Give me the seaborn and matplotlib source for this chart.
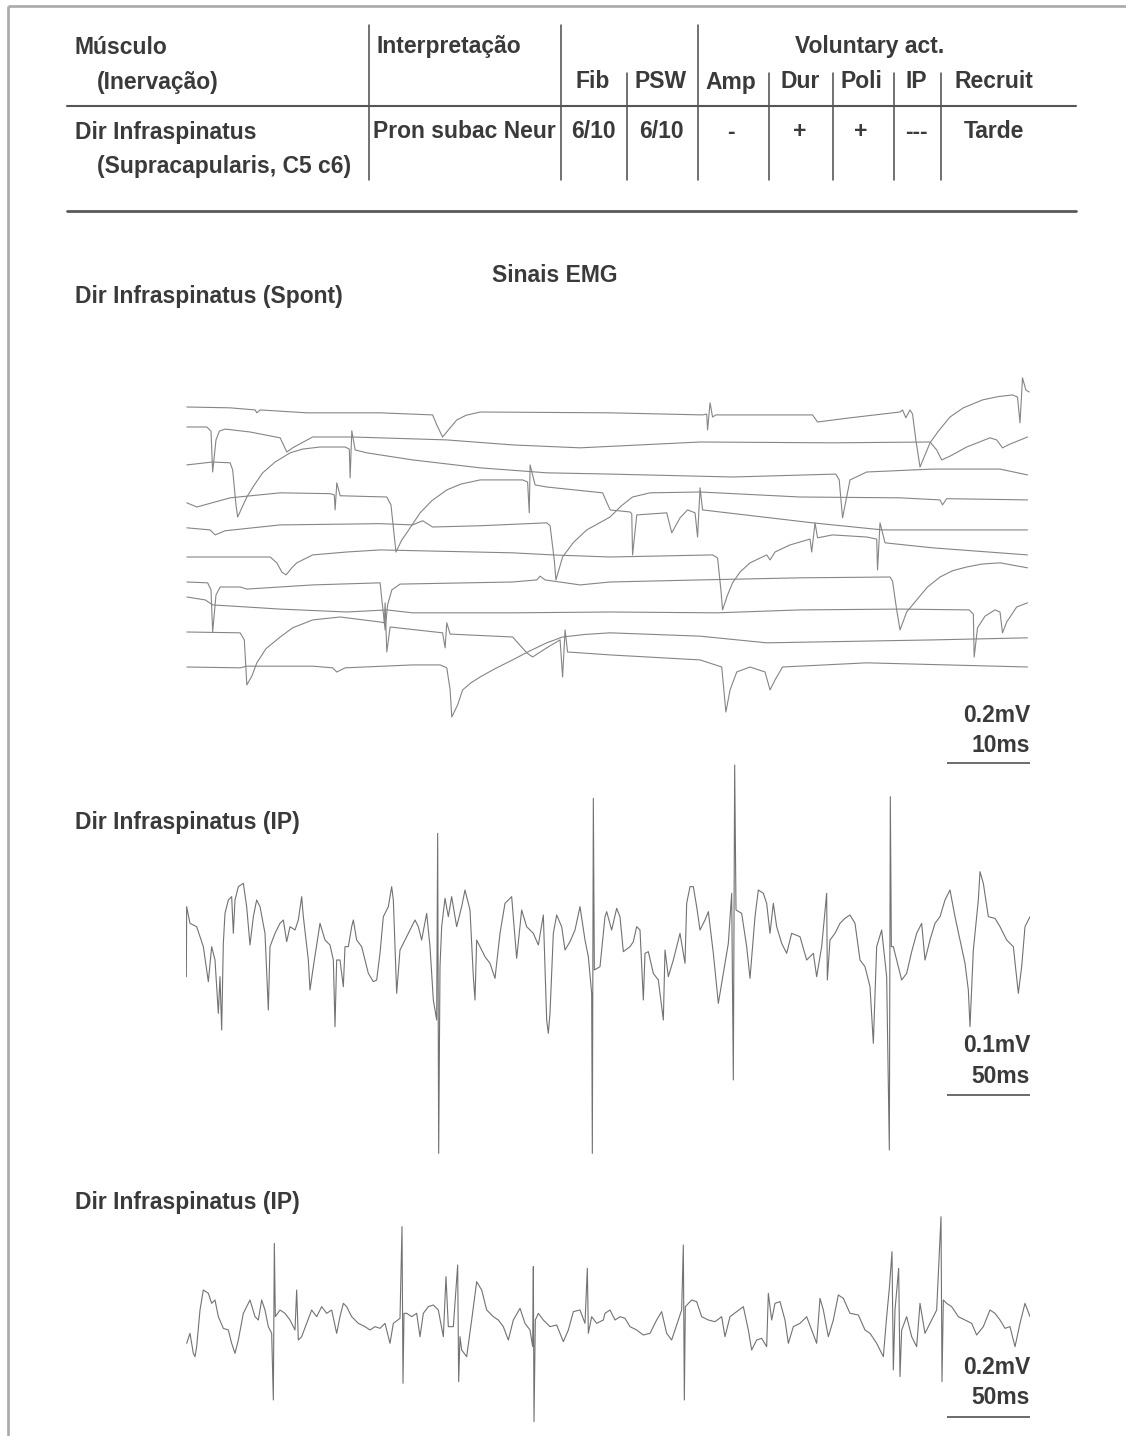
import numpy as np
import pandas as pd
import matplotlib
matplotlib.use("Agg")
import matplotlib.pyplot as plt
import seaborn as sns

# ---- table content ----
header_cols = ["Fib", "PSW", "Amp", "Dur", "Poli", "IP", "Recruit"]
row_values = ["6/10", "6/10", "-", "+", "+", "---", "Tarde"]
muscle = "Dir Infraspinatus"
innervation = "(Supracapularis, C5 c6)"
interpretation = "Pron subac Neur"

# ---- spontaneous activity: 10 sweeps, (time ms, amplitude uV vs. sweep baseline) ----
sweep01 = [(0.1, 0), (5.3, -2), (8.3, -7), (8.5, -14), (8.9, -7), (14.5, -14), (23.3, -14), (29.6, -19),
           (30.1, -43), (30.8, -72), (31.7, -50), (32.5, -31), (33.6, -20), (35.3, -12), (50.9, -14),
           (62.0, -19), (62.5, -17), (62.6, -55), (62.9, 10), (63.2, -24), (63.6, -19), (75.2, -19),
           (75.8, -36), (79.7, -26), (85.7, -12), (86.0, -7), (86.4, -26), (86.9, -7), (87.2, -17),
           (87.6, -79), (88.1, -144), (88.7, -115), (89.3, -86), (90.3, -58), (91.7, -24), (93.3, -2),
           (95.6, 17), (97.5, 25), (99.2, 29), (99.8, 24), (100.1, -38), (100.4, 70), (100.8, 41),
           (101.2, 36)]
sweep02 = [(0.1, 0), (2.5, 0), (3.0, -10), (3.2, -108), (3.6, -31), (4.0, -10), (4.7, -5), (7.7, -12),
           (11.3, -26), (12.1, -60), (12.8, -50), (15.2, -24), (20.0, -24), (31.3, -31), (39.2, -43),
           (47.3, -50), (61.7, -36), (77.6, -38), (89.3, -36), (90.1, -55), (90.7, -79), (91.7, -70),
           (93.7, -48), (96.5, -26), (97.3, -31), (98.0, -50), (98.9, -41), (101.0, -24)]
sweep03 = [(0.1, 0), (3.2, 7), (5.3, 5), (5.6, -12), (6.0, -96), (6.2, -125), (7.3, -77), (8.2, -48),
           (9.2, -19), (10.7, 7), (12.5, 29), (14.0, 38), (16.1, 43), (19.1, 43), (19.6, 38), (19.7, -31),
           (19.9, 82), (20.3, 36), (21.7, 29), (27.2, 12), (35.3, -7), (43.3, -19), (50.9, -22),
           (65.6, -29), (78.0, -22), (78.4, -36), (78.8, -127), (79.7, -36), (81.7, -17), (89.6, -10),
           (97.7, -10), (101.0, -24)]
sweep04 = [(0.1, 0), (1.3, -10), (5.3, 12), (11.3, 24), (17.3, 22), (17.8, 19), (17.9, -17), (18.1, 48),
           (18.5, 17), (24.1, 14), (24.6, -5), (25.2, -118), (25.9, -89), (26.5, -72), (28.1, -24),
           (29.5, 5), (31.3, 31), (33.0, 45), (35.3, 55), (40.4, 55), (41.0, 50), (41.2, -24), (41.3, 91),
           (41.9, 43), (43.3, 38), (50.0, 24), (50.9, -17), (53.3, -22), (53.5, -26), (53.6, -125),
           (54.1, -29), (57.7, -24), (58.3, -72), (59.3, -36), (60.2, -17), (61.1, -24), (61.4, -82),
           (61.7, 36), (62.0, -17), (75.2, -48), (83.6, -65), (101.0, -65)]
sweep05 = [(0.1, 0), (2.9, -5), (3.5, -17), (4.7, -7), (11.3, 7), (23.3, 10), (27.2, 7), (28.4, 17),
           (29.6, 2), (35.3, 5), (43.3, 12), (43.7, 5), (44.2, -77), (44.4, -125), (45.2, -70), (46.5, -35),
           (48.1, -5), (50.9, 26), (52.2, 52), (53.6, 74), (55.7, 84), (61.7, 86), (73.7, 74), (85.7, 72),
           (90.5, 67), (90.8, 55), (91.3, 70), (101.0, 67)]
sweep06 = [(0.1, 0), (10.1, 0), (10.9, -14), (11.5, -36), (12.0, -43), (12.7, -26), (13.3, -14), (15.2, 5),
           (19.3, 12), (23.3, 17), (39.2, 10), (44.0, 5), (50.9, 0), (63.2, 5), (63.8, -2), (64.2, -79),
           (64.4, -127), (65.0, -91), (65.6, -62), (66.5, -36), (67.7, -14), (69.7, 5), (70.1, -7),
           (70.7, 12), (72.5, 29), (74.9, 43), (75.1, 12), (75.5, 82), (75.8, 46), (77.6, 53), (81.7, 48),
           (82.9, 43), (83.0, -31), (83.3, 82), (83.9, 34), (89.6, 22), (101.0, 5)]
sweep07 = [(0.1, 0), (2.6, -2), (3.0, -19), (3.2, -120), (3.6, -31), (4.1, -12), (6.5, -12), (7.3, -17),
           (15.2, -7), (23.3, -2), (23.5, -41), (23.9, -115), (24.2, -55), (24.7, -19), (25.7, -5),
           (39.2, 0), (42.1, 5), (42.5, 14), (43.1, 5), (47.3, -7), (50.9, 0), (61.7, 5), (73.7, 10),
           (84.5, 12), (84.8, 2), (85.3, -67), (85.7, -115), (86.5, -72), (87.7, -43), (89.0, -12),
           (90.5, 12), (92.0, 27), (93.7, 36), (95.5, 43), (97.7, 46), (101.0, 34)]
sweep08 = [(0.1, 0), (2.3, -7), (3.2, -19), (7.3, -24), (11.3, -29), (19.3, -36), (24.1, -31), (27.2, -38),
           (39.2, -38), (50.9, -36), (63.7, -38), (73.7, -31), (85.7, -29), (94.0, -31), (94.5, -41),
           (94.6, -144), (95.0, -74), (95.9, -46), (97.1, -31), (97.7, -36), (98.0, -86), (98.5, -60),
           (99.7, -24), (101.0, -14)]
sweep09 = [(0.1, 0), (6.5, -2), (7.0, -19), (7.3, -127), (7.9, -106), (8.5, -74), (9.6, -40), (11.3, -12),
           (12.8, 10), (15.2, 29), (18.5, 36), (23.3, 24), (23.8, 22), (23.9, 70), (24.1, -48), (24.5, 12),
           (30.8, -2), (31.1, -38), (31.3, 22), (31.7, -5), (39.2, -12), (40.9, -50), (41.6, -60),
           (43.3, -38), (44.9, -19), (45.2, -108), (45.5, 5), (45.8, -48), (47.3, -50), (50.9, -55),
           (61.7, -67), (64.3, -84), (64.8, -192), (65.3, -139), (66.1, -96), (67.7, -84), (69.5, -96),
           (70.1, -139), (70.7, -115), (71.6, -84), (81.7, -74), (101.0, -84)]
sweep10 = [(0.1, 0), (6.5, -2), (7.3, 2), (15.2, 2), (17.6, -2), (18.1, -12), (19.1, -2), (27.2, 5),
           (30.5, 5), (31.3, -2), (31.7, -55), (31.9, -120), (32.6, -91), (33.2, -55), (34.2, -38),
           (35.3, -24), (37.0, -5), (39.2, 17), (41.2, 38), (43.3, 58), (45.2, 72), (47.8, 78), (50.9, 82),
           (61.7, 74), (69.7, 58), (89.6, 65), (101.0, 70)]
sweep_offsets = [0, -48, -139, -230, -290, -360, -420, -456, -540, -624]  # uV raster spacing

# ---- interference pattern 1 (0.1 mV / 50 ms): (time ms, amplitude uV) ----
ip1_points = [
    (0.2, -52), (0.4, 32), (2.4, 12), (6.4, 8), (10.4, -16), (13.4, -58), (15.4, -16), (17.4, -32),
    (19.4, -96), (20.4, -52), (21.4, -116), (22.4, -12), (23.4, 24), (25.4, 40), (27.4, 44), (28.4, 0),
    (29.4, 40), (31.4, 56), (34.4, 60), (36.4, 32), (38.4, -14), (40.4, 20), (42.4, 40), (44.4, 32),
    (47.4, 0), (49.4, -92), (50.4, -16), (53.4, 0), (56.4, 12), (58.4, 16), (60.4, -10), (62.4, 8),
    (65.4, 4), (67.4, 16), (69.4, 44), (70.4, 20), (73.4, -32), (74.4, -68), (76.4, -40), (80.4, 12),
    (83.4, -8), (86.4, -14), (88.4, -32), (89.4, -112), (90.4, -32), (92.4, -32), (94.4, -64),
    (95.4, -16), (97.4, -16), (99.4, 8), (100.4, 16), (102.4, -8), (105.4, -16), (109.4, -48),
    (112.4, -58), (114.4, -56), (116.4, -24), (118.4, 20), (121.4, 32), (123.4, 56), (124.4, 40),
    (126.4, -72), (128.4, -20), (130.4, -12), (134.4, 4), (137.4, 16), (139.4, 8), (141.4, -8),
    (144.4, 24), (146.4, -16), (148.4, -80), (150.4, -104), (151.0, 120), (151.6, -264), (152.4, -40),
    (153.4, 8), (155.4, 42), (157.4, 20), (159.4, 44), (162.4, 8), (165.4, 32), (167.4, 52), (170.4, 28),
    (172.4, -52), (173.4, -80), (174.4, -8), (176.4, -16), (179.4, -28), (182.4, -36), (185.4, -54),
    (188.4, 0), (191.4, 36), (195.4, 44), (198.4, -30), (201.4, 28), (204.4, 8), (208.4, 0),
    (211.4, -14), (214.4, 22), (216.4, -104), (217.4, -120), (218.4, -96), (220.4, 0), (222.4, 22),
    (225.4, 8), (227.4, -20), (230.4, -10), (233.4, 4), (236.4, 32), (239.4, -8), (241.4, -28),
    (243.4, -72), (243.8, -264), (244.4, 162), (245.0, -44), (248.4, -40), (251.4, 20),
    (252.4, 26), (255.4, 4), (258.4, 30), (260.4, 20), (262.4, -22), (266.4, -16), (268.4, -10),
    (270.4, 8), (272.4, 4), (274.4, -80), (275.4, -24), (277.4, -22), (280.4, -48), (283.4, -56),
    (286.4, -104), (287.4, -20), (289.4, -52), (292.4, -32), (296.4, 0), (299.4, -36), (300.4, 36),
    (302.4, 56), (304.4, 56), (306.4, 32), (308.4, 4), (311.4, 16), (313.4, 26), (316.4, -24),
    (319.4, -84), (322.4, -48), (325.4, -12), (327.4, 48), (328.4, -176), (329.2, 202), (330.0, 28),
    (333.4, 24), (336.4, -16), (338.4, -54), (341.4, 20), (343.4, 52), (346.4, 48), (348.4, 36),
    (350.4, 0), (352.4, 36), (354.4, 8), (357.4, -12), (360.4, -24), (363.4, 0), (368.4, -4),
    (372.4, -32), (376.4, -24), (378.4, -52), (381.4, -16), (384.4, 48), (384.8, -56), (386.4, -8),
    (389.4, 0), (392.4, 12), (395.4, 18), (398.4, 22), (401.4, 12), (404.4, -32), (407.4, -40),
    (410.4, -64), (412.4, -132), (414.4, -16), (417.4, 4), (420.4, -52), (422.0, -260), (422.6, 164),
    (423.2, -16), (424.4, -16), (426.4, -32), (429.4, -56), (432.4, -48), (435.4, -22), (438.4, 0),
    (441.4, 12), (443.4, -32), (446.4, -8), (449.4, 12), (452.4, 20), (455.4, 40), (458.4, 52),
    (461.4, 20), (464.4, -8), (467.4, -36), (469.4, -68), (470.4, -112), (472.4, -20), (475.4, 40),
    (476.4, 74), (478.4, 60), (481.4, 20), (485.4, 18), (488.4, 8), (492.4, -8), (496.4, -16),
    (499.4, -72), (501.4, -40), (503.4, 8), (506.4, 20)]

# ---- interference pattern 2 (0.2 mV / 50 ms) ----
ip2_points = [
    (0.4, -56), (2.4, -32), (4.4, -80), (5.4, -88), (6.4, -64), (8.4, 24), (10.4, 72), (13.4, 64),
    (15.4, 40), (17.4, 48), (19.4, 8), (22.4, -20), (25.4, -24), (27.4, -56), (29.4, -80), (31.4, -48),
    (34.4, 16), (38.4, 48), (41.4, 8), (43.4, 0), (45.4, 48), (47.4, 24), (49.4, -16), (51.4, -32),
    (52.4, -192), (53.0, 184), (53.6, 8), (56.4, 24), (59.4, 16), (62.4, 0), (65.4, -24), (66.4, 72),
    (67.4, -48), (69.4, -40), (72.4, -8), (75.4, 24), (78.4, 8), (81.4, 32), (84.4, 16), (87.4, 24),
    (90.4, -32), (92.4, 8), (94.4, 40), (96.4, 32), (99.4, 8), (103.4, -8), (107.4, -16), (110.4, -24),
    (113.4, -16), (116.4, -20), (119.4, -8), (122.4, -56), (124.4, -8), (128.4, 4), (129.6, 224),
    (130.2, -152), (130.8, 16), (132.4, 16), (135.4, 8), (138.4, 16), (140.4, -40), (142.4, 16),
    (145.4, 32), (148.4, 36), (151.4, 24), (154.4, -40), (156.0, 104), (157.4, -16), (160.4, -16),
    (163.0, 132), (163.6, -148), (164.4, -40), (165.4, -72), (168.4, -88), (171.4, 0), (174.4, 92),
    (177.4, 72), (180.4, 24), (184.4, 8), (187.4, 0), (190.4, -16), (193.4, -48), (196.4, 0),
    (200.4, 28), (203.4, -8), (206.4, -24), (208.0, -64), (208.4, 128), (208.8, -244), (209.6, 0),
    (211.4, 16), (214.4, 0), (218.4, -16), (222.4, -12), (226.4, -52), (229.4, -24), (232.4, 20),
    (236.4, 24), (239.4, -8), (240.8, 124), (241.4, -32), (243.4, 8), (246.4, -8), (250.4, 0),
    (251.4, 16), (254.4, 24), (257.4, 0), (260.4, 8), (263.4, 4), (266.4, -16), (270.4, -24),
    (274.4, -36), (278.4, -32), (282.4, 0), (285.4, 20), (288.4, -32), (291.4, -48), (295.4, 0),
    (297.4, 24), (298.4, 180), (299.0, -192), (299.6, 32), (303.4, 48), (306.4, 44), (309.4, 8),
    (313.4, 0), (317.4, -4), (321.4, 8), (323.4, -40), (326.4, 8), (330.4, 20), (334.4, 32),
    (337.4, -24), (339.4, -72), (342.4, -48), (345.4, -44), (348.4, -64), (349.4, 64), (351.4, 0),
    (353.4, 40), (356.4, 44), (359.4, 0), (361.4, -56), (364.4, -16), (368.4, -8), (372.4, 8),
    (375.4, -24), (378.4, -56), (380.4, 52), (382.4, 24), (385.4, -40), (388.4, 0), (391.4, 60),
    (394.4, 52), (398.4, 16), (403.4, 12), (407.4, -24), (410.4, -32), (414.4, -56), (418.4, -88),
    (420.4, 8), (422.0, 76), (423.6, 164), (424.4, -120), (425.4, 24), (427.6, 124), (428.4, -136),
    (429.4, -24), (432.4, 8), (435.4, -40), (438.4, -64), (440.4, 40), (443.4, -32), (446.4, -8),
    (450.4, 24), (453.0, 248), (453.6, -148), (454.4, 48), (456.4, 40), (459.4, 32), (463.4, 8),
    (467.4, 0), (471.4, -8), (474.4, -36), (478.4, -16), (482.4, 24), (485.4, 16), (488.4, 0),
    (491.4, -20), (494.4, -16), (497.4, -64), (500.4, -8), (503.4, 40), (506.4, 8)]

# ---- style ----
sns.set_theme(style="white")
plt.rcParams["font.family"] = ["Liberation Sans Narrow", "Liberation Sans", "DejaVu Sans"]
TXT = "#3a3a3a"
FS = 16.5
TRACE = "#858585"

W, H = 1126, 1436
fig = plt.figure(figsize=(W / 100, H / 100), dpi=100)


def px_axes(x0, y0, x1, y1):
    ax = fig.add_axes([x0 / W, 1 - y1 / H, (x1 - x0) / W, (y1 - y0) / H])
    ax.set_axis_off()
    return ax


# background / table axes in pixel units
bg = fig.add_axes([0, 0, 1, 1])
bg.set_xlim(0, W)
bg.set_ylim(H, 0)
bg.set_axis_off()

# page frame
bg.plot([8, W], [6, 6], color="#a9a9a9", lw=1.9, solid_capstyle="butt")
bg.plot([8, 8], [6, H], color="#a9a9a9", lw=1.9, solid_capstyle="butt")

tkw = dict(color=TXT, fontsize=FS, fontweight="bold", va="center")
bg.text(75, 47, "Músculo", ha="left", **tkw)
bg.text(97, 82, "(Inervação)", ha="left", **tkw)
bg.text(376, 47, "Interpretação", ha="left", **tkw)
bg.text(870, 47, "Voluntary act.", ha="center", **tkw)
col_x = [593, 661, 731, 800, 861, 916, 994]
for cx, lab, val in zip(col_x, header_cols, row_values):
    bg.text(cx, 82, lab, ha="center", **tkw)
    bg.text(cx, 132, val, ha="center", **tkw)
bg.text(75, 132, muscle, ha="left", **tkw)
bg.text(97, 166, innervation, ha="left", **tkw)
bg.text(373, 132, interpretation, ha="left", **tkw)

for lx in [369, 561, 698]:
    bg.plot([lx, lx], [25, 180], color="#4a4a4a", lw=1.1)
for lx in [627, 769, 833, 894, 941]:
    bg.plot([lx, lx], [73, 180], color="#4a4a4a", lw=1.1)
bg.plot([67, 1076], [106, 106], color="#555555", lw=1.5)
bg.plot([67, 1076], [211, 211], color="#5a5a5a", lw=2.0)

bg.text(555, 276, "Sinais EMG", ha="center", **tkw)
bg.text(75, 296, "Dir Infraspinatus (Spont)", ha="left", **tkw)
bg.text(75, 822, "Dir Infraspinatus (IP)", ha="left", **tkw)
bg.text(75, 1202, "Dir Infraspinatus (IP)", ha="left", **tkw)

# ---- spontaneous raster ----
sweeps = [sweep01, sweep02, sweep03, sweep04, sweep05, sweep06, sweep07, sweep08, sweep09, sweep10]
rows = []
for i, (sw, off) in enumerate(zip(sweeps, sweep_offsets)):
    for t, v in sw:
        rows.append((i, t, v + off))
spont = pd.DataFrame(rows, columns=["sweep", "t", "uv"])

ax_sp = px_axes(186, 370, 1030, 770)
sns.lineplot(data=spont, x="t", y="uv", units="sweep", estimator=None, sort=False,
             color=TRACE, lw=0.8, ax=ax_sp, legend=False)
ax_sp.set_xlim(0, 101.3)
ax_sp.set_ylim(-871.2, 88.8)
ax_sp.set_axis_off()


def scale_bar(ax, x_right, length, y_bar, y_amp, y_time, amp_lab, time_lab):
    ax.plot([x_right - length, x_right], [y_bar, y_bar], color="#444444", lw=1.1,
            solid_capstyle="butt")
    ax.text(x_right, y_amp, amp_lab, ha="right", **tkw)
    ax.text(x_right, y_time, time_lab, ha="right", **tkw)


scale_bar(ax_sp, 101.3, 10, -854.4, -741.6, -811.2, "0.2mV", "10ms")

# ---- IP 1 ----
ip1 = pd.DataFrame(ip1_points, columns=["t", "uv"])
ax_ip1 = px_axes(186, 760, 1030, 1160)
sns.lineplot(data=ip1, x="t", y="uv", estimator=None, sort=False, color="#727272", lw=0.8, ax=ax_ip1)
ax_ip1.set_xlim(0, 506.4)
ax_ip1.set_ylim(-272, 208)
ax_ip1.set_axis_off()
scale_bar(ax_ip1, 506.4, 50, -194.4, -134.4, -171.6, "0.1mV", "50ms")

# ---- IP 2 ----
ip2 = pd.DataFrame(ip2_points, columns=["t", "uv"])
ax_ip2 = px_axes(186, 1210, 1030, 1436)
sns.lineplot(data=ip2, x="t", y="uv", estimator=None, sort=False, color="#727272", lw=0.8, ax=ax_ip2)
ax_ip2.set_xlim(0, 506.4)
ax_ip2.set_ylim(-278.4, 264)
ax_ip2.set_axis_off()
scale_bar(ax_ip2, 506.4, 50, -232.8, -115.2, -187.2, "0.2mV", "50ms")

fig.savefig("out.png", dpi=100)
